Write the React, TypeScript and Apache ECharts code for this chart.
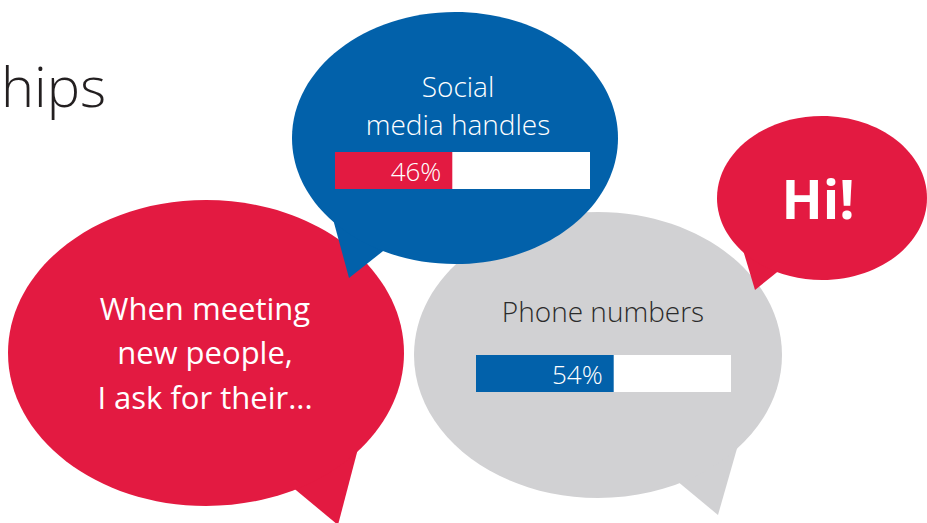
import React, { useEffect, useRef } from "react";
import * as echarts from "echarts";

// ---- data ----
const categories = ["Social media handles", "Phone numbers"];
const shareValues = [46, 54];
const axisMax = 100;
const introLines = ["When meeting", "new people,", "I ask for their..."];
const socialLines = ["Social", "media handles"];
const phoneLabel = "Phone numbers";
const greeting = "Hi!";
const titleFragment = "hips";

// ---- styles ----
const RED = "#E31A41";
const BLUE = "#0261AA";
const GRAY = "#D1D1D3";
const FONT = "'Open Sans', 'Noto Sans', sans-serif";

export default function App() {
  const ref = useRef<HTMLDivElement>(null);

  useEffect(() => {
    if (!ref.current) return;
    const chart = echarts.init(ref.current, null, { renderer: "svg" });

    const makeBar = (idx: number, fill: string) => ({
      type: "bar",
      xAxisIndex: idx,
      yAxisIndex: idx,
      z: 10,
      barWidth: "100%",
      data: [shareValues[idx]],
      itemStyle: { color: fill },
      showBackground: true,
      backgroundStyle: { color: "#ffffff", opacity: 1 },
      label: {
        show: true,
        position: "insideRight",
        distance: 11,
        formatter: "{c}%",
        color: "#ffffff",
        fontSize: 26,
        fontWeight: 300,
        fontFamily: FONT,
      },
      silent: true,
    });

    chart.setOption({
      animation: false,
      backgroundColor: "#ffffff",
      grid: [
        { left: 335, top: 152, width: 255, height: 37 },
        { left: 476, top: 355, width: 255, height: 37 },
      ],
      xAxis: [
        { type: "value", gridIndex: 0, min: 0, max: axisMax, show: false },
        { type: "value", gridIndex: 1, min: 0, max: axisMax, show: false },
      ],
      yAxis: [
        { type: "category", gridIndex: 0, data: [categories[0]], show: false },
        { type: "category", gridIndex: 1, data: [categories[1]], show: false },
      ],
      series: [makeBar(0, RED), makeBar(1, BLUE)],
      graphic: [
        // title fragment
        {
          type: "text",
          x: 1,
          y: 113,
          style: {
            text: titleFragment,
            fill: "#231F20",
            font: `300 56px ${FONT}`,
            textAlign: "left",
            textVerticalAlign: "bottom",
          },
        },
        // red bubble
        {
          type: "polygon",
          shape: { points: [[285, 481], [338, 525], [360, 441]] },
          style: { fill: RED },
        },
        {
          type: "ellipse",
          shape: { cx: 206, cy: 353, rx: 198, ry: 153 },
          style: { fill: RED },
        },
        {
          type: "text",
          x: 205,
          y: 352,
          style: {
            text: introLines.join("\n"),
            fill: "#ffffff",
            font: `400 31px ${FONT}`,
            lineHeight: 44.5,
            textAlign: "center",
            textVerticalAlign: "middle",
          },
        },
        // gray bubble
        {
          type: "polygon",
          shape: { points: [[671, 476], [718, 515], [740, 438]] },
          style: { fill: GRAY },
        },
        {
          type: "ellipse",
          shape: { cx: 598, cy: 355, rx: 184, ry: 143 },
          style: { fill: GRAY },
        },
        {
          type: "text",
          x: 603,
          y: 311,
          style: {
            text: phoneLabel,
            fill: "#2B2B2B",
            font: `300 28px ${FONT}`,
            textAlign: "center",
            textVerticalAlign: "middle",
          },
        },
        // blue bubble
        {
          type: "polygon",
          shape: { points: [[330, 208], [349, 278], [392, 244]] },
          style: { fill: BLUE },
        },
        {
          type: "ellipse",
          shape: { cx: 455, cy: 138, rx: 163, ry: 126 },
          style: { fill: BLUE },
        },
        {
          type: "text",
          x: 458,
          y: 105,
          style: {
            text: socialLines.join("\n"),
            fill: "#ffffff",
            font: `300 28px ${FONT}`,
            lineHeight: 38,
            textAlign: "center",
            textVerticalAlign: "middle",
          },
        },
        // Hi bubble
        {
          type: "polygon",
          shape: { points: [[740, 240], [755, 290], [786, 265]] },
          style: { fill: RED },
        },
        {
          type: "ellipse",
          shape: { cx: 822, cy: 198, rx: 105, ry: 82 },
          style: { fill: RED },
        },
        {
          type: "text",
          x: 818,
          y: 198,
          style: {
            text: greeting,
            fill: "#ffffff",
            font: `700 54px ${FONT}`,
            textAlign: "center",
            textVerticalAlign: "middle",
          },
        },
      ],
    });

    return () => chart.dispose();
  }, []);

  return (
    <div
      ref={ref}
      style={{ position: "fixed", left: 0, top: 0, width: 927, height: 523 }}
    />
  );
}
